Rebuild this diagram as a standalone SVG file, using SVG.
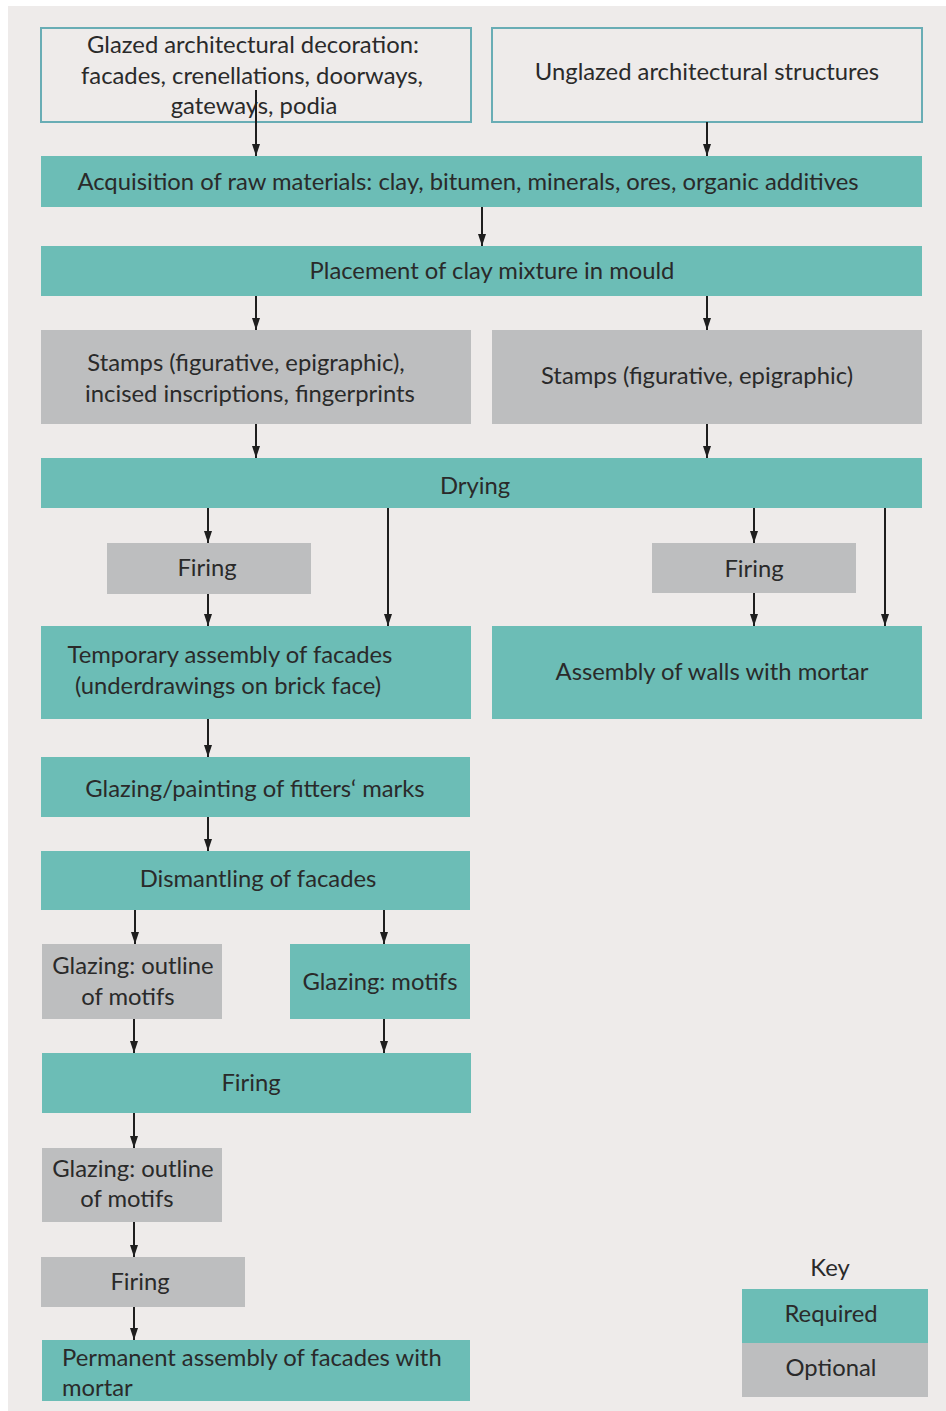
<svg xmlns="http://www.w3.org/2000/svg" width="946" height="1411" viewBox="0 0 946 1411">
<defs>
<style>
.req{fill:#6cbdb6}
.opt{fill:#bdbebf}
.src{fill:none;stroke:#69adb5;stroke-width:2}
text{font-family:Lato,"Liberation Sans",sans-serif;font-size:23.8px;fill:#2a2a2a;text-anchor:middle}
.l{text-anchor:start}
</style>
<marker id="ad" markerUnits="userSpaceOnUse" markerWidth="8" markerHeight="12" refX="4" refY="12" orient="0" viewBox="0 0 8 12">
<path d="M0,0 L8,0 L4,12 Z" fill="#1e1e1e"/>
</marker>
</defs>
<rect x="0" y="0" width="946" height="1411" fill="#ffffff"/>
<rect x="8" y="6" width="938" height="1405" fill="#eeebea"/>

<g id="n-glazed"><rect class="src" x="41" y="28" width="430" height="94"/>
<text x="253" y="53">Glazed architectural decoration:</text>
<text x="252" y="84">facades, crenellations, doorways,</text>
<text x="254" y="114">gateways, podia</text></g>
<g id="n-unglazed"><rect class="src" x="492" y="28" width="430" height="94"/>
<text x="707" y="80">Unglazed architectural structures</text></g>
<g id="n-acq"><rect class="req" x="41" y="156" width="881" height="51"/>
<text x="468" y="190">Acquisition of raw materials: clay, bitumen, minerals, ores, organic additives</text></g>
<g id="n-place"><rect class="req" x="41" y="246" width="881" height="50"/>
<text x="492" y="279">Placement of clay mixture in mould</text></g>
<g id="n-stampsL"><rect class="opt" x="41" y="330" width="430" height="94"/>
<text x="246" y="371">Stamps (figurative, epigraphic),</text>
<text x="250" y="402">incised inscriptions, fingerprints</text></g>
<g id="n-stampsR"><rect class="opt" x="492" y="330" width="430" height="94"/>
<text x="697" y="384">Stamps (figurative, epigraphic)</text></g>
<g id="n-drying"><rect class="req" x="41" y="458" width="881" height="50"/>
<text x="475" y="494">Drying</text></g>
<g id="n-firingL"><rect class="opt" x="107" y="543" width="204" height="51"/>
<text x="207" y="576">Firing</text></g>
<g id="n-firingR"><rect class="opt" x="652" y="543" width="204" height="50"/>
<text x="754" y="577">Firing</text></g>
<g id="n-temp"><rect class="req" x="41" y="626" width="430" height="93"/>
<text x="230" y="663">Temporary assembly of facades</text>
<text x="228" y="694">(underdrawings on brick face)</text></g>
<g id="n-walls"><rect class="req" x="492" y="626" width="430" height="93"/>
<text x="712" y="680">Assembly of walls with mortar</text></g>
<g id="n-glazpaint"><rect class="req" x="41" y="757" width="429" height="60"/>
<text x="255" y="797">Glazing/painting of fitters‘ marks</text></g>
<g id="n-dismantle"><rect class="req" x="41" y="851" width="429" height="59"/>
<text x="258" y="887">Dismantling of facades</text></g>
<g id="n-outline1"><rect class="opt" x="42" y="944" width="180" height="75"/>
<text x="133" y="974">Glazing: outline</text>
<text x="128" y="1005">of motifs</text></g>
<g id="n-motifs"><rect class="req" x="290" y="944" width="180" height="75"/>
<text x="380" y="990">Glazing: motifs</text></g>
<g id="n-firing2"><rect class="req" x="42" y="1053" width="429" height="60"/>
<text x="251" y="1091">Firing</text></g>
<g id="n-outline2"><rect class="opt" x="42" y="1148" width="180" height="74"/>
<text x="133" y="1177">Glazing: outline</text>
<text x="127" y="1207">of motifs</text></g>
<g id="n-firing3"><rect class="opt" x="41" y="1257" width="204" height="50"/>
<text x="140" y="1290">Firing</text></g>
<g id="n-perm"><rect class="req" x="42" y="1340" width="428" height="61"/>
<text class="l" x="62" y="1366">Permanent assembly of facades with</text>
<text class="l" x="62" y="1396">mortar</text></g>
<g id="key">
<text x="830" y="1276">Key</text>
<rect class="req" x="742" y="1289" width="186" height="54"/>
<text x="831" y="1322">Required</text>
<rect class="opt" x="742" y="1343" width="186" height="54"/>
<text x="831" y="1376">Optional</text>
</g>

<g id="connectors" stroke="#1e1e1e" stroke-width="2" fill="none">
<g marker-end="url(#ad)">
<line x1="256" y1="90" x2="256" y2="156"/>
<line x1="707" y1="122" x2="707" y2="156"/>
<line x1="482" y1="207" x2="482" y2="246"/>
<line x1="256" y1="296" x2="256" y2="330"/>
<line x1="707" y1="296" x2="707" y2="330"/>
<line x1="256" y1="424" x2="256" y2="458"/>
<line x1="707" y1="424" x2="707" y2="458"/>
<line x1="208" y1="508" x2="208" y2="543"/>
<line x1="388" y1="508" x2="388" y2="626"/>
<line x1="754" y1="508" x2="754" y2="543"/>
<line x1="885" y1="508" x2="885" y2="626"/>
<line x1="208" y1="594" x2="208" y2="626"/>
<line x1="754" y1="593" x2="754" y2="626"/>
<line x1="208" y1="719" x2="208" y2="757"/>
<line x1="208" y1="817" x2="208" y2="851"/>
<line x1="135" y1="910" x2="135" y2="944"/>
<line x1="384" y1="910" x2="384" y2="944"/>
<line x1="134" y1="1019" x2="134" y2="1053"/>
<line x1="384" y1="1019" x2="384" y2="1053"/>
<line x1="134" y1="1113" x2="134" y2="1148"/>
<line x1="134" y1="1222" x2="134" y2="1257"/>
<line x1="134" y1="1307" x2="134" y2="1340"/>
</g>
</g>
</svg>
